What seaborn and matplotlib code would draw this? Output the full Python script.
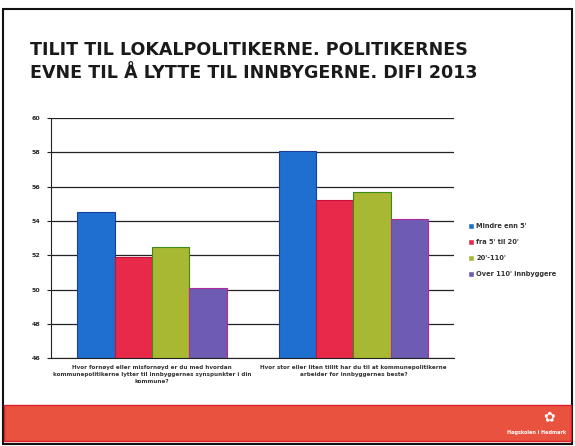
import pandas as pd
import numpy as np
import matplotlib
matplotlib.use('Agg')
import matplotlib.pyplot as plt
import seaborn as sns
from matplotlib.patches import Rectangle

sns.set_style('white')
plt.rcParams['font.family'] = ['DejaVu Sans']

questions = [
    'Hvor fornøyd eller misfornøyd er du med hvordan\nkommunepolitikerne lytter til innbyggernes synspunkter i din\nkommune?',
    'Hvor stor eller liten tillit har du til at kommunepolitikerne\narbeider for innbyggernes beste?',
]
groups = ["Mindre enn 5'", "fra 5' til 20'", "20'-110'", "Over 110' innbyggere"]
q1_values = [54.5, 51.9, 52.5, 50.1]
q2_values = [58.1, 55.2, 55.7, 54.1]
y_ticks = [46, 48, 50, 52, 54, 56, 58, 60]

df = pd.DataFrame({
    'Spørsmål': [questions[0]] * 4 + [questions[1]] * 4,
    'Gruppe': groups * 2,
    'Verdi': q1_values + q2_values,
})

palette = {
    groups[0]: '#1f6fd0',
    groups[1]: '#e8294a',
    groups[2]: '#a9b832',
    groups[3]: '#6e5cb2',
}
edges = ['#1a3f9a', '#c8103a', '#3b8a1a', '#b02c9a']

fig = plt.figure(figsize=(5.75, 4.46), dpi=100)
ax = fig.add_axes([0.089, 0.197, 0.701, 0.538])

sns.barplot(data=df, x='Spørsmål', y='Verdi', hue='Gruppe', hue_order=groups,
            palette=palette, width=0.74, gap=0, saturation=1, ax=ax,
            err_kws={'linewidth': 0})

for cont, ec in zip(ax.containers, edges):
    for bar in cont:
        bar.set_edgecolor(ec)
        bar.set_linewidth(0.8)

ax.set_ylim(46, 60)
ax.set_yticks(y_ticks)
ax.set_yticklabels([str(t) for t in y_ticks], fontsize=4.5, fontweight='bold')
ax.yaxis.grid(True, color='#222222', linewidth=0.9)
ax.set_axisbelow(True)
ax.set_xlabel('')
ax.set_ylabel('')
ax.set_xticks([0.5], minor=True)
ax.tick_params(axis='x', which='major', length=0, labelsize=4.1, pad=5)
ax.tick_params(axis='x', which='minor', length=3, color='#222222', direction='out')
ax.tick_params(axis='y', length=3, color='#222222', direction='out', pad=5, left=True)
for lab in ax.get_xticklabels():
    lab.set_fontweight('bold')
    lab.set_color('#333333')
    lab.set_linespacing(1.5)
for side in ['top', 'right']:
    ax.spines[side].set_visible(False)
ax.spines['left'].set_color('#222222')
ax.spines['bottom'].set_color('#222222')

leg = ax.legend(loc='center left', bbox_to_anchor=(1.02, 0.45), frameon=False,
                fontsize=4.8, handlelength=0.9, handleheight=0.9, handletextpad=0.3,
                labelspacing=1.5)
for t in leg.get_texts():
    t.set_fontweight('bold')
    t.set_color('#333333')

fig.text(0.052, 0.862, 'TILIT TIL LOKALPOLITIKERNE. POLITIKERNES\nEVNE TIL Å LYTTE TIL INNBYGERNE. DIFI 2013',
         fontsize=12.6, fontweight='bold', color='#1a1a1a', va='center', ha='left',
         linespacing=1.3)

# slide frame and red footer band
fig.patches.append(Rectangle((0.005, 0.005), 0.99, 0.975, transform=fig.transFigure,
                             fill=False, edgecolor='#111111', linewidth=1.5))
fig.patches.append(Rectangle((0.007, 0.012), 0.986, 0.08, transform=fig.transFigure,
                             facecolor='#e8523f', edgecolor='#d8202a', linewidth=1))
fig.text(0.985, 0.03, 'Høgskolen i Hedmark', fontsize=3.5, color='white',
         ha='right', va='center', fontweight='bold')
fig.text(0.955, 0.065, '✿', fontsize=10, color='white', ha='center', va='center')

fig.savefig('out.png', dpi=100)
